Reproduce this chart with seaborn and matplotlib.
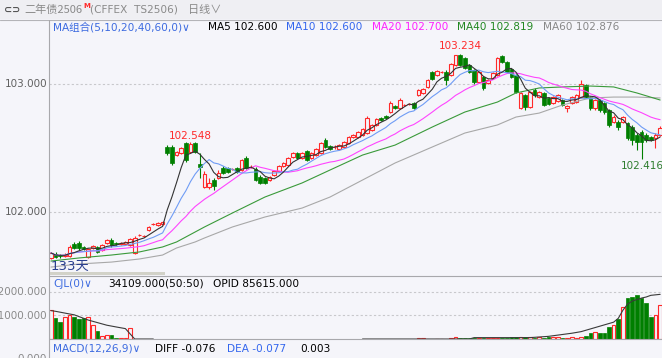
import numpy as np
import pandas as pd
import matplotlib
matplotlib.use("Agg")
import matplotlib.pyplot as plt
from matplotlib.lines import Line2D
from matplotlib.patches import Rectangle
import seaborn as sns

# 二年债2506 日线
opens = [
    101.641, 101.672, 101.664, 101.656, 101.656, 101.750, 101.758, 101.727, 101.648, 101.719,
    101.727, 101.703, 101.758, 101.781, 101.758, 101.750, 101.750, 101.742, 101.680, 101.820,
    101.813, 101.859, 101.906, 101.898, 101.906, 102.508, 102.508, 102.445, 102.461, 102.539,
    102.469, 102.539, 102.375, 102.195, 102.195, 102.250, 102.266, 102.344, 102.344, 102.336,
    102.344, 102.328, 102.422, 102.352, 102.336, 102.273, 102.266, 102.250, 102.289, 102.320,
    102.359, 102.367, 102.430, 102.461, 102.422, 102.477, 102.422, 102.445, 102.461, 102.563,
    102.516, 102.508, 102.492, 102.508, 102.539, 102.586, 102.586, 102.602, 102.617, 102.641,
    102.680, 102.734, 102.750, 102.781, 102.828, 102.813, 102.836, 102.844, 102.852, 102.914,
    102.930, 102.977, 103.094, 103.070, 103.094, 103.094, 103.070, 103.148, 103.227, 103.203,
    103.148, 103.109, 103.016, 103.055, 103.008, 103.047, 103.070, 103.219, 103.172, 103.117,
    103.070, 102.813, 102.914, 102.820, 102.953, 102.898, 102.930, 102.891, 102.852, 102.867,
    102.875, 102.813, 102.852, 102.859, 102.898, 102.992, 102.898, 102.813, 102.875, 102.852,
    102.797, 102.703, 102.703, 102.703, 102.695, 102.664, 102.602, 102.625, 102.602, 102.586,
    102.578, 102.602,
]
closes = [
    101.680, 101.648, 101.656, 101.664, 101.727, 101.719, 101.719, 101.711, 101.711, 101.734,
    101.688, 101.742, 101.781, 101.742, 101.750, 101.758, 101.766, 101.789, 101.797, 101.820,
    101.813, 101.883, 101.906, 101.914, 101.922, 102.461, 102.383, 102.469, 102.500, 102.406,
    102.531, 102.469, 102.352, 102.297, 102.227, 102.203, 102.305, 102.305, 102.313, 102.336,
    102.313, 102.406, 102.344, 102.352, 102.250, 102.227, 102.227, 102.273, 102.320, 102.359,
    102.383, 102.422, 102.461, 102.422, 102.461, 102.406, 102.461, 102.492, 102.539, 102.508,
    102.492, 102.508, 102.523, 102.547, 102.586, 102.602, 102.625, 102.648, 102.734, 102.680,
    102.727, 102.719, 102.734, 102.852, 102.813, 102.875, 102.836, 102.844, 102.813, 102.953,
    102.961, 103.031, 103.039, 103.102, 103.094, 103.031, 103.156, 103.227, 103.148, 103.125,
    103.094, 103.016, 103.094, 102.969, 103.031, 103.086, 103.203, 103.172, 103.094, 103.055,
    102.938, 102.930, 102.820, 102.938, 102.914, 102.938, 102.836, 102.844, 102.898, 102.914,
    102.836, 102.828, 102.898, 102.914, 103.000, 102.898, 102.813, 102.875, 102.797, 102.781,
    102.680, 102.742, 102.664, 102.742, 102.578, 102.563, 102.547, 102.547, 102.563, 102.563,
    102.602, 102.656,
]
highs = [
    101.688, 101.688, 101.672, 101.680, 101.742, 101.766, 101.773, 101.734, 101.719, 101.742,
    101.734, 101.750, 101.789, 101.797, 101.766, 101.766, 101.773, 101.797, 101.813, 101.828,
    101.820, 101.891, 101.914, 101.922, 101.930, 102.523, 102.523, 102.477, 102.508, 102.547,
    102.548, 102.545, 102.461, 102.320, 102.266, 102.266, 102.328, 102.359, 102.352, 102.344,
    102.352, 102.414, 102.438, 102.367, 102.352, 102.289, 102.273, 102.281, 102.328, 102.367,
    102.391, 102.430, 102.469, 102.469, 102.469, 102.484, 102.469, 102.500, 102.547, 102.578,
    102.523, 102.523, 102.531, 102.555, 102.594, 102.609, 102.633, 102.656, 102.750, 102.688,
    102.734, 102.742, 102.758, 102.867, 102.836, 102.891, 102.844, 102.852, 102.859, 102.961,
    102.969, 103.039, 103.102, 103.109, 103.102, 103.109, 103.164, 103.227, 103.234, 103.211,
    103.156, 103.117, 103.102, 103.063, 103.039, 103.094, 103.211, 103.227, 103.180, 103.125,
    103.078, 102.938, 102.922, 102.945, 102.969, 102.945, 102.938, 102.898, 102.906, 102.922,
    102.883, 102.836, 102.906, 102.922, 103.031, 103.000, 102.906, 102.883, 102.883, 102.859,
    102.805, 102.758, 102.719, 102.750, 102.703, 102.680, 102.617, 102.641, 102.617, 102.594,
    102.617, 102.672,
]
lows = [
    101.633, 101.641, 101.641, 101.648, 101.648, 101.711, 101.703, 101.703, 101.641, 101.711,
    101.680, 101.695, 101.750, 101.727, 101.742, 101.742, 101.742, 101.734, 101.672, 101.813,
    101.805, 101.852, 101.898, 101.891, 101.898, 102.445, 102.367, 102.438, 102.453, 102.391,
    102.461, 102.461, 102.266, 102.188, 102.180, 102.172, 102.258, 102.297, 102.305, 102.328,
    102.305, 102.320, 102.336, 102.344, 102.242, 102.219, 102.219, 102.242, 102.281, 102.313,
    102.352, 102.359, 102.422, 102.414, 102.414, 102.398, 102.414, 102.438, 102.453, 102.500,
    102.484, 102.492, 102.484, 102.500, 102.531, 102.578, 102.578, 102.594, 102.609, 102.633,
    102.672, 102.711, 102.727, 102.773, 102.805, 102.805, 102.828, 102.836, 102.805, 102.906,
    102.922, 102.969, 103.031, 103.063, 103.086, 102.992, 103.063, 103.141, 103.141, 103.117,
    103.086, 103.000, 103.008, 102.953, 103.000, 103.039, 103.063, 103.164, 103.086, 103.047,
    102.930, 102.805, 102.797, 102.813, 102.898, 102.891, 102.828, 102.836, 102.844, 102.859,
    102.828, 102.781, 102.844, 102.852, 102.891, 102.891, 102.797, 102.797, 102.781, 102.766,
    102.664, 102.695, 102.641, 102.695, 102.563, 102.523, 102.484, 102.416, 102.547, 102.555,
    102.500, 102.594,
]

# MA40 / MA60 (含更早的历史, 按图读取)
ma40_idx = [0, 6, 13, 19, 24, 27, 31, 33, 39, 46, 54, 60, 67, 74, 82, 89, 96, 100, 105, 110, 116, 121, 126, 131]
ma40_val = [101.617, 101.641, 101.664, 101.688, 101.727, 101.766, 101.844, 101.883, 101.992, 102.117,
            102.227, 102.328, 102.445, 102.523, 102.664, 102.781, 102.859, 102.930, 102.969, 102.977,
            102.984, 102.977, 102.930, 102.875]
ma60_idx = ma40_idx
ma60_val = [101.570, 101.594, 101.609, 101.633, 101.664, 101.719, 101.766, 101.797, 101.883, 101.961,
            102.031, 102.117, 102.250, 102.383, 102.508, 102.617, 102.680, 102.742, 102.773, 102.836,
            102.891, 102.898, 102.898, 102.891]

# 成交量 CJL
vol = ([38800, 28300, 22800, 29600, 31000, 29600, 26300, 27200, 28600, 18000,
        10000, 3700, 5500, 5500, 1800, 1800, 900, 14600]
       + [0] * 5 + [np.nan] * 44 + [0] * 12
       + [900, 900, 600, 300, 600, 300, 300, 900, 3000, 1800, 1800, 1500, 1200, 1200, 1500, 1200,
          1500, 1500, 1200, 1800, 3100, 3100, 3100, 3100, 3100, 1800, 2600, 1800, 3100, 2600,
          2200, 900, 1800, 3100, 1800, 3100,
          4400, 8000, 9700, 7500, 7500, 15500, 18600, 26600, 42100, 54000, 55400, 58500,
          54000, 47800, 28800, 31900, 44300])
vol_line = ([37400, 36500, 35300, 34200, 33000, 31900, 29600, 27300, 25000, 23300,
             21600, 19900, 18200, 17000, 15900, 14800, 13700, 6800]
            + [0] * 5 + [np.nan] * 44 + [0] * 24 + [1800] * 13
            + [2200, 2600, 3000, 3500, 4300, 5000, 5800, 6600, 7600, 8600, 9700, 11500, 13300,
               15000, 16800, 18600, 20400, 22200, 27300, 38000, 46000, 50000, 52000, 54000,
               55400, 57600, 58300, 58900])

BG = "#f5f5fa"
RED = "#ff2a2a"
GREEN = "#007f00"
GRID = "#c8c8cc"
W, H = 662, 358

sns.set_theme(style="white", rc={"axes.facecolor": BG, "figure.facecolor": BG})
plt.rcParams["font.family"] = ["DejaVu Sans", "Noto Sans CJK SC"]

fig = plt.figure(figsize=(W / 100, H / 100), dpi=100)
fig.patch.set_facecolor(BG)


def rect(top, bottom, left=49, right=662):
    return [left / W, 1 - bottom / H, (right - left) / W, (bottom - top) / H]


def ftext(x, y, s, **kw):
    kw.setdefault("va", "center")
    fig.text(x / W, 1 - y / H, s, **kw)


def fline(x0, y0, x1, y1, **kw):
    fig.add_artist(Line2D([x0 / W, x1 / W], [1 - y0 / H, 1 - y1 / H],
                          transform=fig.transFigure, **kw))


# title bar
fig.add_artist(Rectangle((0, 1 - 19 / H), 1, 19 / H, transform=fig.transFigure,
                         facecolor="#efeff3", edgecolor="none", zorder=0))

ax = fig.add_axes(rect(20, 275))
axv = fig.add_axes(rect(276, 339))
for a in (ax, axv):
    a.set_facecolor(BG)
    for s in a.spines.values():
        s.set_visible(False)
    a.set_xticks([])
    a.set_yticks([])
    a.set_xlim(-0.43, 131.4)

idx = np.arange(len(closes))
o = np.array(opens)
c = np.array(closes)
hi = np.maximum(np.array(highs), np.maximum(o, c))
lo = np.minimum(np.array(lows), np.minimum(o, c))
up = c >= o
body_lo = np.minimum(o, c)
body_h = np.maximum(np.abs(c - o), 0.0012)

ax.set_ylim(101.508, 103.5)
for lv in (103.0, 102.0):
    ax.axhline(lv, color=GRID, lw=0.8, ls=(0, (2, 2)), zorder=0)

ax.vlines(idx[up], lo[up], hi[up], color=RED, lw=0.8, zorder=2)
ax.vlines(idx[~up], lo[~up], hi[~up], color=GREEN, lw=0.8, zorder=2)
ax.bar(idx[up], body_h[up], bottom=body_lo[up], width=0.78, facecolor=BG,
       edgecolor=RED, linewidth=0.8, zorder=3)
ax.bar(idx[~up], body_h[~up], bottom=body_lo[~up], width=0.78, facecolor=GREEN,
       edgecolor=GREEN, linewidth=0.5, zorder=3)

cs = pd.Series(closes)
ma5 = cs.rolling(5, min_periods=1).mean()
ma10 = cs.rolling(10, min_periods=1).mean()
ma20 = cs.rolling(20, min_periods=1).mean()
sns.lineplot(x=ma60_idx, y=ma60_val, ax=ax, color="#a8a8a8", lw=0.8, zorder=4)
sns.lineplot(x=ma40_idx, y=ma40_val, ax=ax, color="#3a9a3a", lw=0.8, zorder=4)
sns.lineplot(x=idx, y=ma20, ax=ax, color="#ff44ff", lw=0.8, zorder=4)
sns.lineplot(x=idx, y=ma10, ax=ax, color="#6f9cf5", lw=0.8, zorder=4)
sns.lineplot(x=idx, y=ma5, ax=ax, color="#333333", lw=0.8, zorder=5)
ax.set_xlabel("")
ax.set_ylabel("")

# 最高/最低标注
ax.text(30, 102.548 + 0.045, "102.548", color=RED, fontsize=7.5, ha="center", va="center")
ax.text(88, 103.234 + 0.06, "103.234", color=RED, fontsize=7.5, ha="center", va="center")
ax.text(122.5, 102.416 - 0.06, "102.416", color="#2e7d2e", fontsize=7.5, ha="left", va="center")

# volume panel
v = np.array(vol, dtype=float)
vup = up & (v > 0)
vdn = (~up) & (v > 0)
axv.set_ylim(0, 83100)
for lv in (62000, 31000):
    axv.axhline(lv, color=GRID, lw=0.8, ls=(0, (2, 2)), zorder=0)
axv.bar(idx[vup], v[vup], width=0.78, facecolor=BG, edgecolor=RED, linewidth=0.8, zorder=3)
axv.bar(idx[vdn], v[vdn], width=0.78, facecolor=GREEN, edgecolor=GREEN, linewidth=0.5, zorder=3)
axv.plot(idx, np.array(vol_line, dtype=float), color="#3a3a3a", lw=0.8, zorder=4)

# frame lines
fline(0, 19.5, 662, 19.5, color="#b4b4b8", lw=0.8)
fline(49, 19.5, 49, 358, color="#a8a8ac", lw=0.8)
fline(49, 275.5, 662, 275.5, color="#a8a8ac", lw=0.8)
fline(49, 339, 662, 339, color="#a8a8ac", lw=0.8)
fig.add_artist(Rectangle((50 / W, 1 - 274.5 / H), 115 / W, 3 / H, transform=fig.transFigure,
                         facecolor="#d2d2c8", edgecolor="none", zorder=6))

# title texts
ftext(4, 10, "⊂⊃", color="#555555", fontsize=7, fontweight="bold")
ftext(24, 10, "二年债2506", color="#8a8a8a", fontsize=8, family=["Noto Sans CJK SC"])
ftext(83, 6, "M", color=RED, fontsize=5, fontweight="bold")
ftext(90, 10, "(CFFEX  TS2506)", color="#8a8a8a", fontsize=7.6)
ftext(188, 10, "日线∨", color="#8a8a8a", fontsize=8, family=["Noto Sans CJK SC", "DejaVu Sans"])

# legend row
fs = 7.6
ftext(53, 27, "MA组合(5,10,20,40,60,0)∨", color="#3d6be0", fontsize=fs)
ftext(208, 27, "MA5 102.600", color="#000000", fontsize=fs)
ftext(286, 27, "MA10 102.600", color="#3366ee", fontsize=fs)
ftext(372, 27, "MA20 102.700", color="#ff22ff", fontsize=fs)
ftext(457, 27, "MA40 102.819", color="#228822", fontsize=fs)
ftext(543, 27, "MA60 102.876", color="#888888", fontsize=fs)

# y labels
ftext(47, 84, "103.000", color="#606060", fontsize=7.5, ha="right")
ftext(47, 212, "102.000", color="#606060", fontsize=7.5, ha="right")
ftext(47, 292, "62000.000", color="#8a8a8a", fontsize=7.5, ha="right")
ftext(47, 316, "31000.000", color="#8a8a8a", fontsize=7.5, ha="right")
ftext(47, 354.5, "0.000", color="#8a8a8a", fontsize=7.5, ha="right", va="top")

ftext(51, 266, "133天", color="#2a3f8f", fontsize=9.5, zorder=7)

# CJL row
ftext(53, 284, "CJL(0)∨", color="#3d6be0", fontsize=fs)
ftext(108, 284, "34109.000(50:50)", color="#000000", fontsize=fs)
ftext(213, 284, "OPID 85615.000", color="#000000", fontsize=fs)

# MACD row
ftext(53, 348.5, "MACD(12,26,9)∨", color="#3d6be0", fontsize=fs)
ftext(155, 348.5, "DIFF -0.076", color="#000000", fontsize=fs)
ftext(227, 348.5, "DEA -0.077", color="#3366ee", fontsize=fs)
ftext(300, 348.5, "0.003", color="#000000", fontsize=fs)

fig.savefig("out.png", dpi=100, facecolor=BG)
